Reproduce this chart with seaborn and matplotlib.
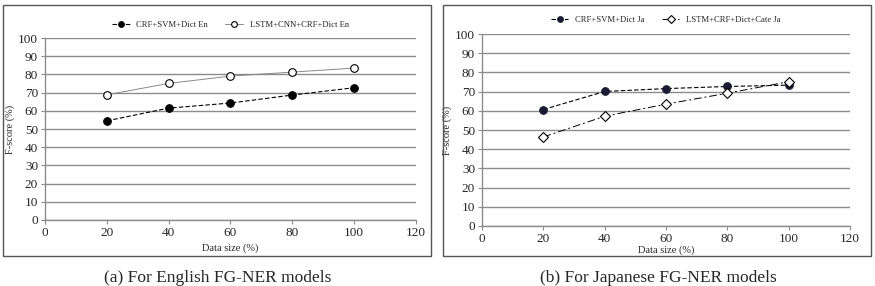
import numpy as np
import pandas as pd
import matplotlib
matplotlib.use('Agg')
import matplotlib.pyplot as plt
from matplotlib.patches import Rectangle
import seaborn as sns

# data
data_size = [20, 40, 60, 80, 100]
en_crf_svm = [54.5, 61.5, 64.3, 68.7, 72.7]
en_lstm_cnn = [68.8, 75.1, 79.1, 81.3, 83.5]
ja_crf_svm = [60.7, 70.1, 71.6, 72.7, 73.4]
ja_lstm_cate = [46.4, 57.2, 63.5, 69.2, 75.2]

en_labels = ['CRF+SVM+Dict En', 'LSTM+CNN+CRF+Dict En']
ja_labels = ['CRF+SVM+Dict Ja', 'LSTM+CRF+Dict+Cate Ja']
captions = ['(a) For English FG-NER models', '(b) For Japanese FG-NER models']

sns.set_style('white')
plt.rcParams['font.family'] = ['Liberation Serif', 'DejaVu Serif']

fig = plt.figure(figsize=(8.75, 2.86), dpi=100)

# outer boxes around each chart
for x0 in [0.0034, 0.506]:
    fig.patches.append(Rectangle((x0, 0.105), 0.489, 0.878, transform=fig.transFigure,
                                 fill=False, edgecolor='#555555', linewidth=1.0))

ax1 = fig.add_axes([0.0514, 0.2308, 0.424, 0.636])
ax2 = fig.add_axes([0.5509, 0.2098, 0.4206, 0.671])

df_en = pd.DataFrame({'size': data_size, 'a': en_crf_svm, 'b': en_lstm_cnn})
df_ja = pd.DataFrame({'size': data_size, 'a': ja_crf_svm, 'b': ja_lstm_cate})

# English
sns.lineplot(data=df_en, x='size', y='a', ax=ax1, color='black', linestyle=(0, (4, 2)),
             linewidth=0.8, marker='o', markersize=5.5, markerfacecolor='black',
             markeredgecolor='black', label=en_labels[0])
sns.lineplot(data=df_en, x='size', y='b', ax=ax1, color='#888888', linestyle='-',
             linewidth=0.7, marker='o', markersize=5.5, markerfacecolor='white',
             markeredgecolor='black', markeredgewidth=0.8, label=en_labels[1])

# Japanese
sns.lineplot(data=df_ja, x='size', y='a', ax=ax2, color='black', linestyle=(0, (4, 2)),
             linewidth=0.8, marker='o', markersize=5.5, markerfacecolor='#1a1a33',
             markeredgecolor='#1a1a33', label=ja_labels[0])
sns.lineplot(data=df_ja, x='size', y='b', ax=ax2, color='black', linestyle=(0, (8, 3, 2, 3)),
             linewidth=0.7, marker='D', markersize=5, markerfacecolor='white',
             markeredgecolor='black', markeredgewidth=0.8, label=ja_labels[1])

for ax in [ax1, ax2]:
    ax.set_xlim(0, 120)
    ax.set_ylim(0, 100)
    ax.set_xticks(range(0, 121, 20))
    ax.set_yticks(range(0, 101, 10))
    ax.yaxis.grid(True, color='#8c8c8c', linewidth=1.0)
    ax.xaxis.grid(False)
    ax.set_axisbelow(True)
    for s in ['top', 'right']:
        ax.spines[s].set_visible(False)
    for s in ['left', 'bottom']:
        ax.spines[s].set_color('#8c8c8c')
        ax.spines[s].set_linewidth(1.0)
    ax.tick_params(axis='both', direction='out', length=3, width=0.8, color='#8c8c8c',
                   labelsize=9.5, pad=2, left=True, bottom=True)
    ax.set_ylabel('F-score (%)', fontsize=7.5, labelpad=2)
    ax.legend(loc='lower center', bbox_to_anchor=(0.5, 1.01), ncol=2, frameon=False,
              fontsize=6.2, handlelength=2.0, columnspacing=2.0, markerscale=0.75)

ax1.set_xlabel('Data size (%)', fontsize=7.5, labelpad=3)
ax2.set_xlabel('Data size (%)', fontsize=7.5, labelpad=0)

fig.text(0.249, 0.028, captions[0], ha='center', va='center', fontsize=12.5)
fig.text(0.752, 0.028, captions[1], ha='center', va='center', fontsize=12.5)

fig.savefig('out.png', dpi=100)
